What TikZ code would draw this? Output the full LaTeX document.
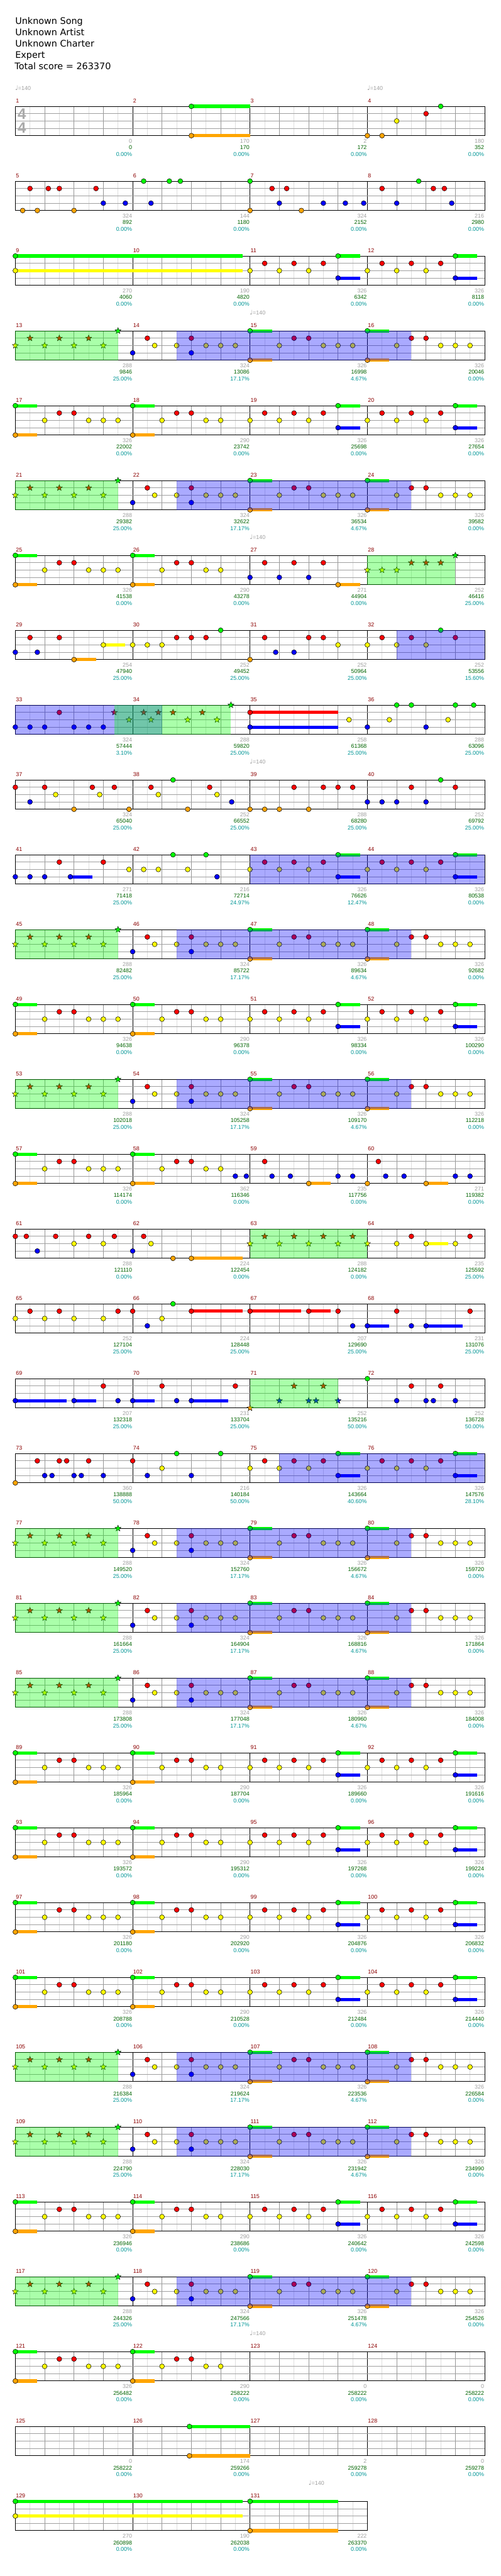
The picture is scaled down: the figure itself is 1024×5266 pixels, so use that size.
\documentclass[tikz,border=0pt]{standalone}
\usepackage{fontspec}
\setmainfont{Liberation Sans}
\newfontfamily\titlefont{DejaVu Sans}
\newfontfamily\musfont{DejaVu Sans}
\usetikzlibrary{shapes.geometric}
\definecolor{lc0}{RGB}{0,255,0}
\definecolor{lc1}{RGB}{255,0,0}
\definecolor{lc2}{RGB}{255,255,0}
\definecolor{lc3}{RGB}{0,0,255}
\definecolor{lc4}{RGB}{255,165,0}
\definecolor{mnumc}{RGB}{139,0,0}
\definecolor{scg}{RGB}{160,160,160}
\definecolor{scd}{RGB}{0,100,0}
\definecolor{scp}{RGB}{0,150,150}
\definecolor{beatc}{RGB}{150,150,150}
\definecolor{subc}{RGB}{222,222,222}
\definecolor{hlc}{RGB}{160,160,160}
\definecolor{tsc}{RGB}{170,170,170}
\tikzset{
  subl/.style={subc,line width=0.9pt},
  beatl/.style={beatc,line width=0.9pt},
  mline/.style={black,line width=0.9pt},
  hline/.style={hlc,line width=1.2pt},
  border/.style={black,line width=1.3pt},
  notec/.style={draw=black,line width=0.7pt},
  starc/.style={star,star points=5,star point ratio=2.3,minimum size=13pt,inner sep=0pt,draw=black,line width=0.6pt},
  mnum/.style={anchor=base west,inner sep=0pt,text=mnumc,font=\fontsize{11.5}{13}\selectfont},
  scs/.style={anchor=base east,inner sep=0pt,font=\fontsize{11.5}{13}\selectfont},
  ttl/.style={anchor=base west,inner sep=0pt,font=\titlefont\fontsize{18.5}{23}\selectfont},
  tsig/.style={inner sep=0pt,text=tsc,font=\bfseries\fontsize{31}{31}\selectfont},
  tempo/.style={anchor=base west,inner sep=0pt,text=scg,font=\fontsize{11.5}{13}\selectfont}
}
\newcommand\RowAt[1]{\pgfmathsetmacro\ty{217.33+153*(#1-1)}}
\newcommand\Nt[2]{\draw[notec,fill=lc#2] ({31.33+30*#1},{\ty+15*#2}) circle[radius=5pt];}
\newcommand\Sn[3]{\fill[lc#2] ({31.33+30*#1},{\ty+15*#2-3.3}) rectangle ({31.33+30*#3},{\ty+15*#2+3.3});\Nt{#1}{#2}}
\newcommand\St[2]{\node[starc,fill=lc#2] at ({31.33+30*#1},{\ty+15*#2}) {};}
\newcommand\SP[2]{\fill[lc0,opacity=0.333] ({31.33+30*#1},{\ty}) rectangle ({31.33+30*#2},{\ty+60});}
\newcommand\AC[2]{\fill[lc3,opacity=0.333] ({31.33+30*#1},{\ty}) rectangle ({31.33+30*#2},{\ty+60});}
\newcommand\Tp[1]{\node[tempo] at ({30.8+30*#1},{\ty-33}) {{\musfont\fontsize{13}{13}\selectfont ♩}=140};}
\newcommand\Sc[4]{%
  \node[scs,text=scg] at ({30.33+240*#1},{\ty+75.4}) {#2};%
  \node[scs,text=scd] at ({30.33+240*#1},{\ty+88.4}) {#3};%
  \node[scs,text=scp] at ({30.33+240*#1},{\ty+101.7}) {#4\%};}
\newcommand\Grid[2]{%
  \pgfmathtruncatemacro\lo{8*#1-1}%
  \pgfmathtruncatemacro\le{8*#1-2}%
  \pgfmathtruncatemacro\lm{#1-1}%
  \pgfmathsetmacro\xr{31.33+240*#1}%
  \foreach \i in {1,3,...,\lo}{\draw[subl] ({31.33+30*\i},\ty) -- ++(0,60);}%
  \foreach \i in {2,4,...,\le}{\draw[beatl] ({31.33+30*\i},\ty) -- ++(0,60);}%
  \foreach \i in {1,...,\lm}{\draw[mline] ({31.33+240*\i},\ty) -- ++(0,60);}%
  \foreach \k in {1,2,3}{\draw[hline] (31.33,{\ty+15*\k}) -- (\xr,{\ty+15*\k});}%
  \draw[border] (31.33,\ty) rectangle (\xr,{\ty+60});%
  \foreach \i in {0,...,\lm}{\pgfmathtruncatemacro\mn{#2+\i}\node[mnum] at ({32.3+240*\i},{\ty-7.3}) {\mn};}%
}
% patterns
\newcommand\PatA{\Sn{0}{0}{1.5}\Sn{0}{4}{1.5}\Nt{2}{2}\Nt{3}{1}\Nt{4}{1}\Nt{5}{2}\Nt{6}{2}\Nt{7}{2}%
  \Sn{8}{0}{9.5}\Sn{8}{4}{9.5}\Nt{10}{2}\Nt{11}{1}\Nt{12}{1}\Nt{13}{2}\Nt{14}{2}}
\newcommand\PatAA{\Nt{16}{2}\Nt{17}{1}\Nt{18}{2}\Nt{19}{1}\Nt{20}{2}\Nt{21}{1}\Sn{22}{0}{23.5}\Sn{22}{3}{23.5}%
  \Nt{24}{2}\Nt{25}{1}\Nt{26}{2}\Nt{27}{1}\Nt{28}{2}\Nt{29}{1}\Sn{30}{0}{31.5}\Sn{30}{3}{31.5}}
\newcommand\PatB{\St{0}{2}\St{1}{1}\St{2}{2}\St{3}{1}\St{4}{2}\St{5}{1}\St{6}{2}\St{7}{0}%
  \Nt{8}{3}\Nt{9}{1}\Nt{9.5}{2}\Nt{11}{2}\Nt{12}{1}\Nt{12}{3}\Nt{13}{2}\Nt{14}{2}\Nt{15}{2}%
  \Sn{16}{0}{17.5}\Sn{16}{4}{17.5}\Nt{18}{2}\Nt{19}{1}\Nt{20}{1}\Nt{21}{2}\Nt{22}{2}\Nt{23}{2}%
  \Sn{24}{0}{25.5}\Sn{24}{4}{25.5}\Nt{26}{2}\Nt{27}{1}\Nt{28}{1}\Nt{29}{2}\Nt{30}{2}\Nt{31}{2}%
  \SP{0}{7}\AC{11}{27}}
\begin{document}
\begin{tikzpicture}[x=1pt,y=-1pt]
\useasboundingbox[fill=white] (0,0) rectangle (1024,5266);
\node[ttl] (t1) at (31,49.5) {Unknown Song};
\node[ttl] (t2) at (31,72.5) {Unknown Artist};
\node[ttl] (t3) at (31,95.7) {Unknown Charter};
\node[ttl] (t4) at (31,118.7) {Expert};
\node[ttl] (t5) at (30,141.8) {Total score = 263370};
% row 1
\RowAt{1}\Grid{4}{1}
\node[tsig] at (44.7,{\ty+15}) {4};\node[tsig] at (44.7,{\ty+44}) {4};
\Tp{0}\Tp{24}
\Sn{12}{0}{16}\Sn{12}{4}{16}\Nt{24}{4}\Nt{25}{4}\Nt{26}{2}\Nt{28}{1}\Nt{29}{0}
\Sc{1}{0}{0}{0.00}\Sc{2}{170}{170}{0.00}\Sc{3}{2}{172}{0.00}\Sc{4}{180}{352}{0.00}
% row 2
\RowAt{2}\Grid{4}{5}
\Nt{0.5}{4}\Nt{1}{1}\Nt{1.5}{4}\Nt{2.25}{1}\Nt{3}{1}\Nt{4}{4}\Nt{5.5}{1}\Nt{6}{3}\Nt{7.5}{3}\Nt{8.75}{0}\Nt{9.25}{3}\Nt{10.5}{0}\Nt{11.25}{0}
\Nt{16}{0}\Nt{16}{4}\Nt{17.5}{1}\Nt{18}{3}\Nt{18.5}{1}\Nt{19.5}{4}\Nt{21}{3}\Nt{22.5}{3}\Nt{23.75}{3}\Nt{25}{1}\Nt{26}{3}\Nt{27.5}{0}\Nt{28.5}{1}\Nt{29.25}{1}\Nt{29.75}{3}
\Sc{1}{324}{892}{0.00}\Sc{2}{144}{1180}{0.00}\Sc{3}{324}{2152}{0.00}\Sc{4}{216}{2980}{0.00}
% row 3
\RowAt{3}\Grid{4}{9}
\Sn{0}{0}{15.5}\Sn{0}{2}{15.5}\PatAA
\Sc{1}{270}{4060}{0.00}\Sc{2}{190}{4820}{0.00}\Sc{3}{326}{6342}{0.00}\Sc{4}{326}{8118}{0.00}
% row 4
\RowAt{4}\Grid{4}{13}\Tp{16}\PatB
\Sc{1}{288}{9846}{25.00}\Sc{2}{324}{13086}{17.17}\Sc{3}{326}{16998}{4.67}\Sc{4}{326}{20046}{0.00}
% row 5
\RowAt{5}\Grid{4}{17}\PatA\PatAA
\Sc{1}{326}{22002}{0.00}\Sc{2}{290}{23742}{0.00}\Sc{3}{326}{25698}{0.00}\Sc{4}{326}{27654}{0.00}
% row 6
\RowAt{6}\Grid{4}{21}\PatB
\Sc{1}{288}{29382}{25.00}\Sc{2}{324}{32622}{17.17}\Sc{3}{326}{36534}{4.67}\Sc{4}{326}{39582}{0.00}
% row 7
\RowAt{7}\Grid{4}{25}\Tp{16}\PatA
\Nt{16}{3}\Nt{17}{1}\Nt{18}{3}\Nt{19}{1}\Nt{20}{3}\Nt{21}{1}\Sn{22}{4}{23.5}
\St{24}{2}\St{25}{2}\St{26}{2}\St{27}{1}\St{28}{1}\St{29}{1}\St{30}{0}\SP{24}{30}
\Sc{1}{326}{41538}{0.00}\Sc{2}{290}{43278}{0.00}\Sc{3}{271}{44904}{0.00}\Sc{4}{252}{46416}{25.00}
% row 8
\RowAt{8}\Grid{4}{29}
\Nt{0}{3}\Nt{1}{1}\Nt{1.5}{3}\Nt{3}{1}\Sn{4}{4}{5.5}\Sn{6}{2}{7.5}\Nt{8}{2}\Nt{9}{2}\Nt{10}{2}\Nt{11}{1}\Nt{12}{1}\Nt{13}{1}\Nt{14}{0}
\Nt{16}{4}\Nt{17}{1}\Nt{17.75}{3}\Nt{19}{3}\Nt{20}{1}\Nt{21}{1}\Nt{22}{2}\Nt{24}{2}\Nt{25}{1}\Nt{26}{2}\Nt{27}{1}\Nt{28}{2}\Nt{29}{0}\Nt{30}{1}\AC{26}{32}
\Sc{1}{254}{47940}{25.00}\Sc{2}{252}{49452}{25.00}\Sc{3}{252}{50964}{25.00}\Sc{4}{252}{53556}{15.60}
% row 9
\RowAt{9}\Grid{4}{33}
\Nt{0}{3}\Nt{1}{3}\Nt{2}{3}\Nt{3}{1}\Nt{4}{3}\Nt{5}{3}\Nt{6}{3}
\St{6.75}{1}\St{7.75}{2}\St{8.75}{1}\St{9.25}{2}\St{9.75}{1}\St{10.75}{1}\St{11.75}{2}\St{12.75}{1}\St{13.75}{2}\St{14.7}{0}
\Sn{16}{1}{22}\Sn{16}{3}{22}\Nt{22.75}{2}\Nt{24}{3}\Nt{25.5}{2}\Nt{26}{0}\Nt{27}{0}\Nt{28}{3}\Nt{29.5}{2}\Nt{30}{0}\Nt{31.25}{0}
\AC{0}{10}\SP{6.75}{14.7}
\Sc{1}{324}{57444}{3.10}\Sc{2}{288}{59820}{25.00}\Sc{3}{258}{61368}{25.00}\Sc{4}{288}{63096}{25.00}
% row 10
\RowAt{10}\Grid{4}{37}\Tp{16}
\Nt{0}{1}\Nt{1}{3}\Nt{2}{1}\Nt{2.75}{2}\Nt{4}{4}\Nt{5.25}{1}\Nt{5.75}{2}\Nt{6.75}{1}\Nt{7.75}{4}\Nt{9.25}{1}\Nt{9.75}{2}\Nt{10.75}{0}\Nt{11.75}{4}\Nt{13.25}{1}\Nt{13.75}{2}\Nt{14.75}{3}
\Nt{16}{4}\Nt{17}{4}\Nt{18}{4}\Nt{19}{1}\Nt{20}{4}\Nt{21}{1}\Nt{22}{1}\Nt{23}{1}\Nt{24}{3}\Nt{25}{3}\Nt{26}{3}\Nt{27}{1}\Nt{28}{3}\Nt{29}{0}\Nt{30}{1}
\Sc{1}{324}{65040}{25.00}\Sc{2}{252}{66552}{25.00}\Sc{3}{288}{68280}{25.00}\Sc{4}{252}{69792}{25.00}
% row 11
\RowAt{11}\Grid{4}{41}
\Nt{0}{3}\Nt{1}{3}\Nt{2}{3}\Nt{3}{1}\Sn{3.75}{3}{5.25}\Nt{6}{1}\Nt{7.75}{2}\Nt{8.75}{2}\Nt{9.75}{2}\Nt{10.75}{0}\Nt{11.75}{2}\Nt{13}{0}\Nt{13.75}{3}
\PatAA\AC{16}{32}
\Sc{1}{271}{71418}{25.00}\Sc{2}{216}{72714}{24.97}\Sc{3}{326}{76626}{12.47}\Sc{4}{326}{80538}{0.00}
% row 12
\RowAt{12}\Grid{4}{45}\PatB
\Sc{1}{288}{82482}{25.00}\Sc{2}{324}{85722}{17.17}\Sc{3}{326}{89634}{4.67}\Sc{4}{326}{92682}{0.00}
% row 13
\RowAt{13}\Grid{4}{49}\PatA\PatAA
\Sc{1}{326}{94638}{0.00}\Sc{2}{290}{96378}{0.00}\Sc{3}{326}{98334}{0.00}\Sc{4}{326}{100290}{0.00}
% row 14
\RowAt{14}\Grid{4}{53}\PatB
\Sc{1}{288}{102018}{25.00}\Sc{2}{324}{105258}{17.17}\Sc{3}{326}{109170}{4.67}\Sc{4}{326}{112218}{0.00}
% row 15
\RowAt{15}\Grid{4}{57}\PatA
\Nt{15}{3}\Nt{15.75}{3}\Nt{17}{1}\Nt{17.5}{3}\Nt{18.75}{3}\Sn{20}{4}{21.5}\Nt{22}{3}\Nt{23}{3}\Nt{24}{4}\Nt{24.75}{1}\Nt{25.25}{3}\Nt{26.5}{3}\Sn{28}{4}{29.5}\Nt{30}{3}\Nt{31}{3}
\Sc{1}{326}{114174}{0.00}\Sc{2}{362}{116346}{0.00}\Sc{3}{235}{117756}{0.00}\Sc{4}{271}{119382}{0.00}
% row 16
\RowAt{16}\Grid{4}{61}
\Nt{0}{1}\Nt{0.75}{1}\Nt{1.5}{3}\Nt{2.75}{1}\Nt{4}{2}\Nt{5}{1}\Nt{6}{2}\Nt{6.75}{1}\Nt{8}{3}\Nt{8.75}{1}\Nt{9.25}{2}\Nt{10.75}{4}\Sn{12}{4}{15.5}
\St{16}{2}\St{17}{1}\St{18}{2}\St{19}{1}\St{20}{2}\St{21}{1}\St{22}{2}\St{23}{1}\St{24}{2}\SP{16}{24}
\Nt{26}{2}\Nt{27}{1}\Sn{28}{2}{29.5}\Nt{30}{2}\Nt{31}{1}
\Sc{1}{288}{121110}{0.00}\Sc{2}{224}{122454}{0.00}\Sc{3}{288}{124182}{0.00}\Sc{4}{235}{125592}{25.00}
% row 17
\RowAt{17}\Grid{4}{65}
\Nt{0}{2}\Nt{1}{1}\Nt{2}{2}\Nt{3}{1}\Nt{4}{2}\Nt{6}{2}\Nt{7}{1}\Nt{8}{1}\Nt{9}{3}\Nt{10}{2}\Nt{10.75}{0}\Sn{12}{1}{15.5}\Sn{16}{1}{19.5}\Sn{20}{1}{21.5}\Nt{22}{1}\Nt{23}{3}\Sn{24}{3}{25.5}\Nt{26}{1}\Nt{27}{3}\Sn{28}{3}{30.5}\Nt{31}{1}
\Sc{1}{252}{127104}{25.00}\Sc{2}{224}{128448}{25.00}\Sc{3}{207}{129690}{25.00}\Sc{4}{231}{131076}{25.00}
% row 18
\RowAt{18}\Grid{4}{69}
\Sn{0}{3}{3.5}\Sn{4}{3}{5.5}\Nt{6}{1}\Nt{7}{3}\Sn{8}{3}{9.5}\Nt{10}{1}\Nt{11}{3}\Sn{12}{3}{14.5}\Nt{15}{1}
\St{16}{4}\St{18}{3}\St{19}{1}\St{20}{3}\St{20.5}{3}\St{21}{1}\St{22}{3}\SP{16}{22}
\Nt{24}{0}\Nt{26}{3}\Nt{27}{1}\Nt{28}{3}\Nt{28.5}{3}\Nt{29}{1}\Nt{30}{3}
\Sc{1}{207}{132318}{25.00}\Sc{2}{231}{133704}{25.00}\Sc{3}{252}{135216}{50.00}\Sc{4}{252}{136728}{50.00}
% row 19
\RowAt{19}\Grid{4}{73}
\Nt{0}{4}\Nt{1.5}{1}\Nt{2}{3}\Nt{2.5}{3}\Nt{3}{1}\Nt{3.5}{1}\Nt{4}{3}\Nt{4.5}{3}\Nt{5}{1}\Nt{6}{3}\Nt{8}{1}\Nt{9}{3}\Nt{10}{2}\Nt{11}{0}\Nt{12}{3}\Nt{14}{0}
\PatAA\AC{18}{32}
\Sc{1}{360}{138888}{50.00}\Sc{2}{216}{140184}{50.00}\Sc{3}{326}{143664}{40.60}\Sc{4}{326}{147576}{28.10}
% rows 20-28 (provisional)
\RowAt{20}\Grid{4}{77}\PatB
\Sc{1}{288}{149520}{25.00}\Sc{2}{324}{152760}{17.17}\Sc{3}{326}{156672}{4.67}\Sc{4}{326}{159720}{0.00}
\RowAt{21}\Grid{4}{81}\PatB
\Sc{1}{288}{161664}{25.00}\Sc{2}{324}{164904}{17.17}\Sc{3}{326}{168816}{4.67}\Sc{4}{326}{171864}{0.00}
\RowAt{22}\Grid{4}{85}\PatB
\Sc{1}{288}{173808}{25.00}\Sc{2}{324}{177048}{17.17}\Sc{3}{326}{180960}{4.67}\Sc{4}{326}{184008}{0.00}
\RowAt{23}\Grid{4}{89}\PatA\PatAA
\Sc{1}{326}{185964}{0.00}\Sc{2}{290}{187704}{0.00}\Sc{3}{326}{189660}{0.00}\Sc{4}{326}{191616}{0.00}
\RowAt{24}\Grid{4}{93}\PatA\PatAA
\Sc{1}{326}{193572}{0.00}\Sc{2}{290}{195312}{0.00}\Sc{3}{326}{197268}{0.00}\Sc{4}{326}{199224}{0.00}
\RowAt{25}\Grid{4}{97}\PatA\PatAA
\Sc{1}{326}{201180}{0.00}\Sc{2}{290}{202920}{0.00}\Sc{3}{326}{204876}{0.00}\Sc{4}{326}{206832}{0.00}
\RowAt{26}\Grid{4}{101}\PatA\PatAA
\Sc{1}{326}{208788}{0.00}\Sc{2}{290}{210528}{0.00}\Sc{3}{326}{212484}{0.00}\Sc{4}{326}{214440}{0.00}
\RowAt{27}\Grid{4}{105}\PatB
\Sc{1}{288}{216384}{25.00}\Sc{2}{324}{219624}{17.17}\Sc{3}{326}{223536}{4.67}\Sc{4}{326}{226584}{0.00}
\RowAt{28}\Grid{4}{109}\PatB
\Sc{1}{288}{224790}{25.00}\Sc{2}{324}{228030}{17.17}\Sc{3}{326}{231942}{4.67}\Sc{4}{326}{234990}{0.00}
% row 29
\RowAt{29}\Grid{4}{113}\PatA\PatAA
\Sc{1}{326}{236946}{0.00}\Sc{2}{290}{238686}{0.00}\Sc{3}{326}{240642}{0.00}\Sc{4}{326}{242598}{0.00}
% row 30
\RowAt{30}\Grid{4}{117}\PatB
\Sc{1}{288}{244326}{25.00}\Sc{2}{324}{247566}{17.17}\Sc{3}{326}{251478}{4.67}\Sc{4}{326}{254526}{0.00}
% row 31
\RowAt{31}\Grid{4}{121}\Tp{16}\PatA
\Sc{1}{326}{256482}{0.00}\Sc{2}{290}{258222}{0.00}\Sc{3}{0}{258222}{0.00}\Sc{4}{0}{258222}{0.00}
% row 32
\RowAt{32}\Grid{4}{125}
\Sn{11.87}{0}{16}\Sn{11.87}{4}{16}
\Sc{1}{0}{258222}{0.00}\Sc{2}{174}{259266}{0.00}\Sc{3}{2}{259278}{0.00}\Sc{4}{0}{259278}{0.00}
% row 33
\RowAt{33}\Grid{3}{129}\Tp{20}
\Sn{0}{0}{15.5}\Sn{0}{2}{15.5}\Sn{16}{0}{22}\Sn{16}{4}{22}
\Sc{1}{270}{260898}{0.00}\Sc{2}{190}{262038}{0.00}\Sc{3}{222}{263370}{0.00}
\end{tikzpicture}
\end{document}
